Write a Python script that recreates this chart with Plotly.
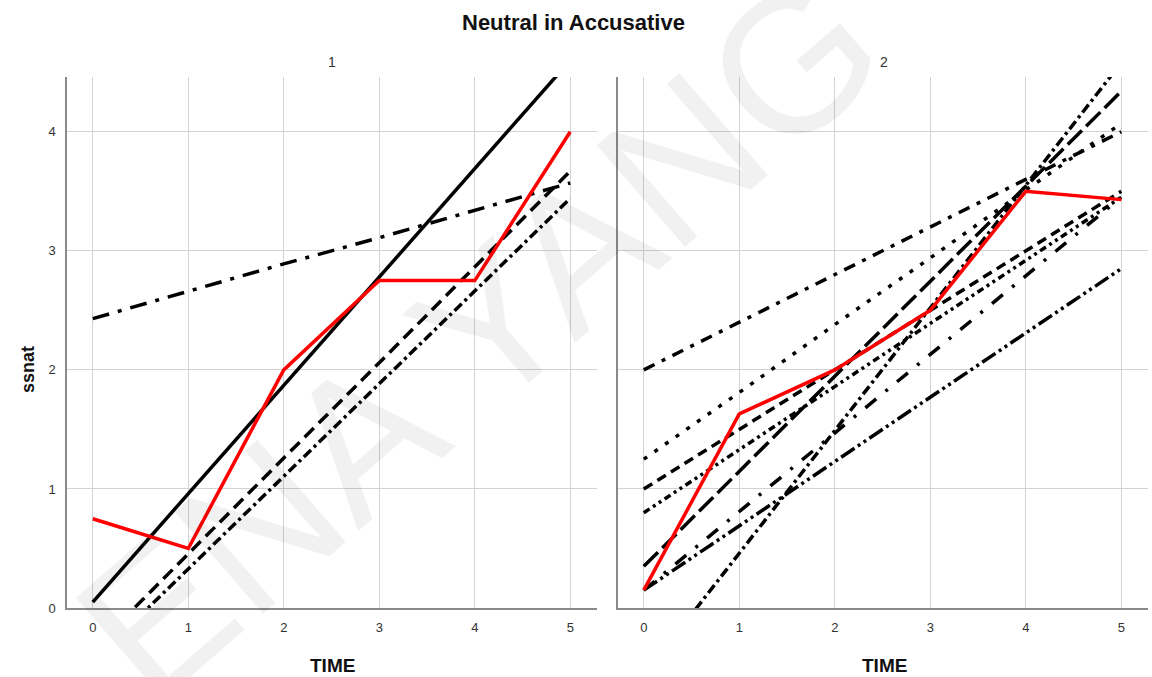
import plotly.graph_objects as go

# ---- data -------------------------------------------------------------
time = [0, 1, 2, 3, 4, 5]
tick_labels = ["0", "1", "2", "3", "4", "5"]
y_ticks = [0, 1, 2, 3, 4]

# group 1
g1_red = [0.75, 0.50, 2.00, 2.75, 2.75, 4.00]
g1_solid = [0.05, 0.96, 1.87, 2.78, 3.69, 4.60]
g1_longdashdot = [2.43, 2.66, 2.89, 3.11, 3.34, 3.57]
g1_dash = [-0.35, 0.46, 1.26, 2.06, 2.87, 3.67]
g1_dashdot = [-0.45, 0.33, 1.11, 1.89, 2.66, 3.44]

# group 2
g2_red = [0.15, 1.63, 2.00, 2.50, 3.50, 3.43]
g2_a = [2.00, 2.40, 2.80, 3.20, 3.60, 4.00]
g2_b = [1.25, 1.81, 2.38, 2.94, 3.51, 4.07]
g2_c = [1.00, 1.50, 2.00, 2.50, 3.00, 3.50]
g2_d = [0.80, 1.33, 1.86, 2.39, 2.92, 3.45]
g2_e = [0.35, 1.15, 1.95, 2.74, 3.54, 4.34]
g2_g = [0.15, 0.69, 1.23, 1.77, 2.31, 2.85]
g2_h = [0.15, 0.81, 1.47, 2.13, 2.79, 3.45]
g2_i = [-0.57, 0.46, 1.49, 2.52, 3.55, 4.58]

# ---- geometry ---------------------------------------------------------
W, H = 1152, 677
ML, MR, MT, MB = 67, 4, 77, 69
PW = W - ML - MR
PH = H - MT - MB
X_RANGE = [-0.27, 5.28]
Y_RANGE = [0, 4.46]

FONT = "Liberation Sans, Arial, sans-serif"
LW = 3.5


def px_x(p):
    return (p - ML) / PW


def px_y(p):
    return (H - MB - p) / PH


fig = go.Figure()


def add_line(y, dash, xa, ya, color="black"):
    fig.add_trace(go.Scatter(
        x=time, y=y, mode="lines", xaxis=xa, yaxis=ya,
        line=dict(color=color, width=LW, dash=dash),
        hoverinfo="skip", showlegend=False,
    ))


# panel 1
add_line(g1_solid, "solid", "x", "y")
add_line(g1_longdashdot, "17px,9px,4px,9px", "x", "y")
add_line(g1_dash, "13px,7px", "x", "y")
add_line(g1_dashdot, "10px,4px,3px,4px", "x", "y")
add_line(g1_red, "solid", "x", "y", color="#ff0000")

# panel 2
add_line(g2_a, "12px,8px,4px,8px", "x2", "y2")
add_line(g2_b, "4px,9px", "x2", "y2")
add_line(g2_c, "10px,6px", "x2", "y2")
add_line(g2_d, "7px,4px,3px,4px,3px,4px", "x2", "y2")
add_line(g2_e, "20px,6px", "x2", "y2")
add_line(g2_g, "16px,4px,3px,4px,3px,4px", "x2", "y2")
add_line(g2_h, "14px,12px,3px,12px", "x2", "y2")
add_line(g2_i, "10px,4px,3px,4px", "x2", "y2")
add_line(g2_red, "solid", "x2", "y2", color="#ff0000")

axis_common = dict(
    showgrid=True, gridcolor="#d2d2d2", gridwidth=1,
    zeroline=False, showline=True, linecolor="#8a8a8a", linewidth=1.5,
    ticks="", tickfont=dict(family=FONT, size=13, color="#333333"),
)

d1 = [0, px_x(597)]
d2 = [px_x(618), 1]

fig.update_layout(
    width=W, height=H,
    margin=dict(l=ML, r=MR, t=MT, b=MB),
    paper_bgcolor="white", plot_bgcolor="white",
    xaxis=dict(domain=d1, range=X_RANGE, tickvals=time, ticktext=tick_labels,
               anchor="y", ticklabelstandoff=7, **axis_common),
    xaxis2=dict(domain=d2, range=X_RANGE, tickvals=time, ticktext=tick_labels,
                anchor="y2", ticklabelstandoff=7, **axis_common),
    yaxis=dict(range=Y_RANGE, tickvals=y_ticks, anchor="x",
               ticklabelstandoff=7, **axis_common),
    yaxis2=dict(range=Y_RANGE, tickvals=y_ticks, anchor="x2",
                showticklabels=False, **axis_common),
)


def label(text, cx, cy, size, color="#111111", angle=0):
    return dict(text=text, x=px_x(cx), y=px_y(cy), xref="paper", yref="paper",
                xanchor="center", yanchor="middle", showarrow=False,
                textangle=angle, font=dict(family=FONT, size=size, color=color))


ann = [label("<b>Neutral in Accusative</b>", 573, 22, 22)]
for name, cx in (("1", 332), ("2", 884)):
    ann.append(label(name, cx, 62, 14, color="#333333"))
    ann.append(label("<b>TIME</b>", cx, 665, 19))
ann.append(label("<b>ssnat</b>", 28, 370, 18, angle=-90))
# watermark
ann.append(label("ENA YANG", 479, 336, 196, color="rgba(0,0,0,0.055)", angle=-41))

fig.update_layout(annotations=ann)

fig.write_html("out.html")
